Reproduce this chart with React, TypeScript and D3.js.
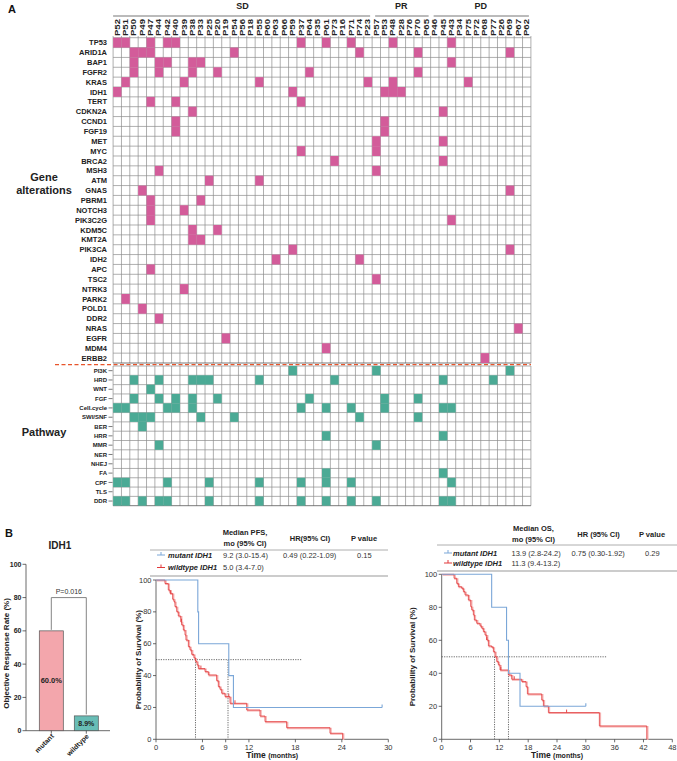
import React from "react";
import * as d3 from "d3";

const FONT = "'Liberation Sans', Arial, Helvetica, sans-serif";
const PINK = "#D35C9A";
const TEAL = "#4BAA95";
const BLUE = "#7BA7D8";
const RED = "#E2393A";
const RED_HALO = "#F6B0B0";
const GRID = "#8C8C8C";

// ---------- Panel A data ----------
const patients = ["P52","P51","P50","P49","P47","P44","P42","P40","P39","P38","P33","P25","P20","P19","P54","P56","P18","P55","P60","P63","P66","P59","P37","P64","P35","P61","P73","P16","P71","P74","P23","P57","P53","P48","P28","P76","P70","P65","P46","P45","P43","P34","P75","P72","P68","P77","P26","P69","P67","P62"];
const responseGroups = ["SD", "PR", "PD"];
const groupSizes = [31, 7, 12];

const genes = ["TP53","ARID1A","BAP1","FGFR2","KRAS","IDH1","TERT","CDKN2A","CCND1","FGF19","MET","MYC","BRCA2","MSH3","ATM","GNAS","PBRM1","NOTCH3","PIK3C2G","KDM5C","KMT2A","PIK3CA","IDH2","APC","TSC2","NTRK3","PARK2","POLD1","DDR2","NRAS","EGFR","MDM4","ERBB2"];
const geneHits: string[][] = [
  ["P52","P51","P47","P42","P40","P37","P61","P71","P48","P43"],
  ["P50","P49","P47","P54","P74","P70","P69"],
  ["P50","P44","P42","P38","P33","P43"],
  ["P50","P44","P38","P20","P64","P70"],
  ["P51","P39","P55","P23","P48","P75"],
  ["P52","P59","P53","P48","P28"],
  ["P47","P40","P37"],
  ["P38","P45"],
  ["P40","P53"],
  ["P40","P53"],
  ["P57","P45"],
  ["P37","P57"],
  ["P73","P45"],
  ["P44","P57"],
  ["P25","P55"],
  ["P49","P69"],
  ["P47","P33"],
  ["P47","P39"],
  ["P47","P43"],
  ["P38","P20"],
  ["P38","P33"],
  ["P59","P69"],
  ["P63","P74"],
  ["P47"],
  ["P57"],
  ["P39"],
  ["P51"],
  ["P49"],
  ["P44"],
  ["P67"],
  ["P19"],
  ["P61"],
  ["P68"],
];

const pathways = ["PI3K","HRD","WNT","FGF","Cell.cycle","SWI/SNF","BER","HRR","MMR","NER","NHEJ","FA","CPF","TLS","DDR"];
const pathwayHits: string[][] = [
  ["P59","P57","P69"],
  ["P50","P44","P38","P33","P25","P55","P73","P45","P77"],
  ["P47"],
  ["P50","P44","P40","P38","P20","P64","P53","P70"],
  ["P52","P51","P42","P40","P38","P37","P61","P71","P53","P45","P43"],
  ["P50","P49","P47","P33","P54","P74","P70"],
  ["P49"],
  ["P61","P45"],
  ["P44","P57"],
  [],
  [],
  ["P61","P45"],
  ["P52","P51","P42","P25","P55","P37","P61","P71","P43"],
  [],
  ["P52","P51","P49","P44","P42","P25","P55","P37","P61","P71","P57","P45","P43"],
];

// ---------- Panel B data ----------
const orrGroups = ["mutant", "wildtype"];
const orrValues = [60.0, 8.9];
const orrLabels = ["60.0%", "8.9%"];
const orrTicks = [0, 20, 40, 60, 80, 100];
const orrP = "P=0.016";

const survTicks = [0, 20, 40, 60, 80, 100];
const pfsTimeTicks = [0, 6, 9, 12, 18, 24, 30];
const osTimeTicks = [0, 6, 12, 18, 24, 30, 36, 42, 48];

const pfsMutTime = [0, 5.4, 5.5, 9.4, 10.0, 29.2];
const pfsMutSurv = [100, 80, 60, 40, 20, 20];
const pfsMutCensor = [29.2];
const pfsWtTime = [0, 1.16, 1.59, 1.81, 2.15, 2.32, 2.45, 2.67, 2.88, 3.19, 3.31, 3.53, 3.75, 3.87, 4.18, 4.39, 4.61, 4.9, 5.1, 5.3, 5.47, 6.33, 6.76, 7.83, 8.05, 8.26, 8.48, 8.91, 9.56, 11.71, 13.43, 14.08, 16.87, 22.47, 24.1];
const pfsWtSurv = [100, 97.8, 93.7, 91.6, 87.9, 86.4, 83.3, 80.1, 77.4, 73.8, 71.8, 68.6, 65.5, 62.3, 58.2, 56.1, 53.3, 51.1, 48.9, 46.7, 44.4, 42.5, 40.4, 36.8, 33.1, 31.4, 28.9, 26.8, 22.6, 18.4, 14.6, 11.1, 7.3, 3.8, 0];
const pfsWtCensor = [1.9, 3.3, 5.8, 9.4, 10.2];
const pfsMedians = [5.1, 9.3];
const pfsRefEnd = 18.8;

const osMutTime = [0, 10.4, 13.5, 13.9, 16.3, 30];
const osMutSurv = [100, 80, 60, 40, 20, 20];
const osMutCensor = [30];
const osWtTime = [0, 2.57, 3.12, 3.47, 4.16, 4.51, 4.86, 5.55, 6.04, 6.25, 6.59, 6.8, 7.29, 7.98, 8.33, 8.67, 9.02, 9.37, 9.72, 10.41, 10.76, 11.1, 11.45, 11.8, 12.14, 13.88, 14.57, 16.66, 17.56, 17.84, 20.82, 21.17, 22.21, 32.82, 42.68];
const osWtSurv = [100, 97.6, 94.5, 92.5, 91.5, 89.5, 87.5, 84.4, 80.4, 78.4, 75.4, 72.3, 70.3, 68.7, 67.3, 65.3, 63.2, 60.2, 56.6, 55.8, 53.1, 50.1, 47.1, 45.1, 42, 39, 36.4, 35, 31.9, 27.5, 23.8, 20.2, 16.2, 8.1, 0];
const osWtCensor = [9.4, 12.3, 15.1, 26.0];
const osMedians = [11.0, 13.9];
const osRefEnd = 34.3;

const pfsTable = {
  head1: "Median PFS,", head2: "mo (95% CI)", hr: "HR(95% CI)", p: "P  value",
  rows: [
    ["mutant IDH1", "9.2 (3.0-15.4)", "0.49 (0.22-1.09)", "0.15"],
    ["wildtype IDH1", "5.0 (3.4-7.0)", "", ""],
  ],
};
const osTable = {
  head1: "Median OS,", head2: "mo (95% CI)", hr: "HR (95% CI)", p: "P  value",
  rows: [
    ["mutant IDH1", "13.9 (2.8-24.2)", "0.75 (0.30-1.92)", "0.29"],
    ["wildtype IDH1", "11.3 (9.4-13.2)", "", ""],
  ],
};

function stepAt(times: number[], surv: number[], t: number) {
  let v = surv[0];
  for (let i = 0; i < times.length; i++) if (times[i] <= t) v = surv[i];
  return v;
}

type KMProps = {
  xs: d3.ScaleLinear<number, number>;
  ys: d3.ScaleLinear<number, number>;
  xTicks: number[];
  mut: [number[], number[], number[]];
  wt: [number[], number[], number[]];
  medians: number[];
  refEnd: number;
  titleX: number;
  table: typeof pfsTable;
  tab: { left: number; right: number; c1: number; c2: number; c3: number; c4: number; h1: number; h2: number; hm: number; line1: number; r1: number; r2: number; sep: number };
};

function KM({ xs, ys, xTicks, mut, wt, medians, refEnd, titleX, table, tab }: KMProps) {
  const line = (times: number[], surv: number[]) =>
    d3.line<number>()
      .x((_, i) => xs(times[i]))
      .y((_, i) => ys(surv[i]))
      .curve(d3.curveStepAfter)(times) || "";
  const [x0, x1] = xs.range();
  const [y0, y1] = ys.range();
  const y50 = ys(50);
  const fs = 7.5;
  return (
    <g fontFamily={FONT}>
      {/* table */}
      <text x={tab.c2 + 22} y={tab.h1} fontSize={fs} fontWeight="bold" textAnchor="middle" fill="#222">{table.head1}</text>
      <text x={tab.c2 + 22} y={tab.h2} fontSize={fs} fontWeight="bold" textAnchor="middle" fill="#222">{table.head2}</text>
      <text x={tab.c3 + 27} y={tab.hm} fontSize={fs} fontWeight="bold" textAnchor="middle" fill="#222">{table.hr}</text>
      <text x={tab.c4 + 7} y={tab.hm} fontSize={fs} fontWeight="bold" textAnchor="middle" fill="#222">{table.p}</text>
      <line x1={tab.left} x2={tab.right} y1={tab.line1} y2={tab.line1} stroke="#999" strokeWidth={0.8} />
      {table.rows.map((r, i) => {
        const y = i === 0 ? tab.r1 : tab.r2;
        const col = i === 0 ? BLUE : RED;
        return (
          <g key={i}>
            <line x1={tab.left + 7} x2={tab.left + 15} y1={y - 2.5} y2={y - 2.5} stroke={col} strokeWidth={1} />
            <line x1={tab.left + 11} x2={tab.left + 11} y1={y - 5.5} y2={y - 2.5} stroke={col} strokeWidth={1} />
            <text x={tab.c1} y={y} fontSize={fs} fontWeight="bold" fontStyle="italic" fill="#222">{r[0]}</text>
            <text x={tab.c2} y={y} fontSize={fs} fill="#333">{r[1]}</text>
            <text x={tab.c3} y={y} fontSize={fs} fill="#333">{r[2]}</text>
            <text x={tab.c4} y={y} fontSize={fs} fill="#333">{r[3]}</text>
          </g>
        );
      })}
      <line x1={tab.left} x2={tab.right} y1={tab.sep} y2={tab.sep} stroke="#BBB" strokeWidth={1.6} />

      {/* axes */}
      <line x1={x0} x2={x0} y1={y0} y2={y1} stroke="#444" strokeWidth={0.8} />
      <line x1={x0} x2={x1} y1={y0} y2={y0} stroke="#444" strokeWidth={0.8} />
      {survTicks.map((t) => (
        <g key={"y" + t}>
          <line x1={x0 - 3} x2={x0} y1={ys(t)} y2={ys(t)} stroke="#444" strokeWidth={0.8} />
          <text x={x0 - 4.5} y={ys(t) + 2.6} fontSize={7.5} textAnchor="end" fill="#333">{t}</text>
        </g>
      ))}
      {xTicks.map((t) => (
        <g key={"x" + t}>
          <line x1={xs(t)} x2={xs(t)} y1={y0} y2={y0 + 3} stroke="#444" strokeWidth={0.8} />
          <text x={xs(t)} y={y0 + 10.5} fontSize={7.5} textAnchor="middle" fill="#333">{t}</text>
        </g>
      ))}
      <text x={(x0 + x1) / 2} y={y0 + 19} textAnchor="middle" fontWeight="bold" fill="#222">
        <tspan fontSize={8.5}>Time </tspan>
        <tspan fontSize={7}>(months)</tspan>
      </text>
      <text transform={`translate(${titleX},${(y0 + y1) / 2}) rotate(-90)`} fontSize={8} fontWeight="bold" textAnchor="middle" fill="#222">Probability of Survival (%)</text>

      {/* reference lines */}
      <line x1={x0} x2={xs(refEnd)} y1={y50} y2={y50} stroke="#444" strokeWidth={0.8} strokeDasharray="1.2 1.2" />
      {medians.map((m, i) => (
        <line key={"m" + i} x1={xs(m)} x2={xs(m)} y1={y50} y2={y0} stroke="#444" strokeWidth={0.8} strokeDasharray="1.2 1.2" />
      ))}

      {/* curves */}
      <path d={line(wt[0], wt[1])} fill="none" stroke={RED_HALO} strokeWidth={1.5} transform="translate(1,0.8)" />
      <path d={line(wt[0], wt[1])} fill="none" stroke={RED} strokeWidth={0.8} />
      {wt[2].map((t, i) => (
        <line key={"wc" + i} x1={xs(t)} x2={xs(t)} y1={ys(stepAt(wt[0], wt[1], t)) - 3} y2={ys(stepAt(wt[0], wt[1], t))} stroke={RED} strokeWidth={0.9} />
      ))}
      <path d={line(mut[0], mut[1])} fill="none" stroke={BLUE} strokeWidth={1.1} />
      {mut[2].map((t, i) => (
        <line key={"mc" + i} x1={xs(t)} x2={xs(t)} y1={ys(stepAt(mut[0], mut[1], t)) - 3} y2={ys(stepAt(mut[0], mut[1], t))} stroke={BLUE} strokeWidth={1.1} />
      ))}
    </g>
  );
}

export default function App() {
  // ----- Panel A scales -----
  const x = d3.scaleBand<string>().domain(patients).range([113.1, 530.9]);
  const yG = d3.scaleBand<string>().domain(genes).range([37.7, 363]);
  const yP = d3.scaleBand<string>().domain(pathways).range([366, 505.7]);
  const bw = x.bandwidth();
  const gx0 = 113.1, gx1 = 530.9;

  const groupStarts: number[] = [];
  groupSizes.reduce((acc, n) => { groupStarts.push(acc); return acc + n; }, 0);

  // ----- Panel B scales -----
  const xb = d3.scaleBand<string>().domain(orrGroups).range([33.8, 103.8]).paddingInner(0.314).paddingOuter(0.157);
  const yb = d3.scaleLinear().domain([0, 100]).range([730.7, 564.3]);

  const xPfs = d3.scaleLinear().domain([0, 30]).range([156, 388.3]);
  const yPfs = d3.scaleLinear().domain([0, 100]).range([739.3, 580]);
  const xOs = d3.scaleLinear().domain([0, 48]).range([441.7, 672.3]);
  const yOs = d3.scaleLinear().domain([0, 100]).range([739.3, 574.3]);

  const mCx = xb("mutant")! + xb.bandwidth() / 2;
  const wCx = xb("wildtype")! + xb.bandwidth() / 2;

  return (
    <svg width={677} height={761} style={{ position: "absolute", left: 0, top: 0, background: "#fff" }} fontFamily={FONT}>
      <rect width={677} height={761} fill="#fff" />
      {/* ===== Panel A ===== */}
      <text x={8} y={13} fontSize={11} fontWeight="bold" fill="#111">A</text>
      {responseGroups.map((g, i) => {
        const s = x(patients[groupStarts[i]])!;
        const e = x(patients[groupStarts[i] + groupSizes[i] - 1])! + bw;
        return (
          <g key={g}>
            <text x={(s + e) / 2} y={9} fontSize={9} fontWeight="bold" textAnchor="middle" fill="#222">{g}</text>
            <line x1={i === 0 ? s : s + 3} x2={e - 2} y1={16} y2={16} stroke="#777" strokeWidth={1} />
          </g>
        );
      })}
      {patients.map((p) => (
        <text key={p} transform={`translate(${x(p)! + bw / 2 + 2.4},36) rotate(-90)`} fontSize={7} fontWeight="bold" fill="#222" textLength={17} lengthAdjust="spacingAndGlyphs">{p}</text>
      ))}

      {/* gene grid */}
      {patients.map((p) => (
        <line key={"vg" + p} x1={x(p)} x2={x(p)} y1={36} y2={363} stroke={GRID} strokeWidth={0.7} />
      ))}
      <line x1={gx1} x2={gx1} y1={36} y2={363} stroke={GRID} strokeWidth={0.7} />
      {genes.map((g) => (
        <line key={"hg" + g} x1={gx0} x2={gx1} y1={yG(g)} y2={yG(g)} stroke={GRID} strokeWidth={0.7} />
      ))}
      <line x1={gx0} x2={gx1} y1={363} y2={363} stroke="#555" strokeWidth={0.8} />
      {genes.map((g, gi) =>
        geneHits[gi].map((p) => (
          <rect key={g + p} x={x(p)} y={yG(g)} width={bw} height={yG.bandwidth()} fill={PINK} />
        ))
      )}
      {genes.map((g) => (
        <text key={"gl" + g} x={107} y={yG(g)! + yG.bandwidth() / 2 + 2.6} fontSize={7.5} fontWeight="bold" textAnchor="end" fill="#222">{g}</text>
      ))}
      <text x={44} y={181} fontSize={11} fontWeight="bold" textAnchor="middle" fill="#222">Gene</text>
      <text x={44} y={194} fontSize={11} fontWeight="bold" textAnchor="middle" fill="#222">alterations</text>

      {/* dashed separator */}
      <line x1={55} x2={531} y1={364.7} y2={364.7} stroke="#E8552B" strokeWidth={1.3} strokeDasharray="4 2.5" />

      {/* pathway grid */}
      {patients.map((p) => (
        <line key={"vp" + p} x1={x(p)} x2={x(p)} y1={366} y2={505.7} stroke={GRID} strokeWidth={0.7} />
      ))}
      <line x1={gx1} x2={gx1} y1={366} y2={505.7} stroke={GRID} strokeWidth={0.7} />
      {pathways.map((g) => (
        <line key={"hp" + g} x1={gx0} x2={gx1} y1={yP(g)} y2={yP(g)} stroke={GRID} strokeWidth={0.7} />
      ))}
      <line x1={gx0} x2={gx1} y1={505.7} y2={505.7} stroke="#555" strokeWidth={0.8} />
      {pathways.map((g, gi) =>
        pathwayHits[gi].map((p) => (
          <rect key={g + p} x={x(p)} y={yP(g)} width={bw} height={yP.bandwidth()} fill={TEAL} />
        ))
      )}
      {pathways.map((g) => {
        const cy = yP(g)! + yP.bandwidth() / 2;
        return (
          <g key={"pl" + g}>
            <text x={107} y={cy + 2.1} fontSize={6} fontWeight="bold" textAnchor="end" fill="#222">{g}</text>
            <line x1={108.5} x2={112.5} y1={cy} y2={cy} stroke="#444" strokeWidth={0.7} />
          </g>
        );
      })}
      <text x={44} y={436} fontSize={11} fontWeight="bold" textAnchor="middle" fill="#222">Pathway</text>

      {/* ===== Panel B ===== */}
      <text x={5} y={537} fontSize={11} fontWeight="bold" fill="#111">B</text>
      <text x={60} y={549} fontSize={10} fontWeight="bold" textAnchor="middle" fill="#222">IDH1</text>

      {/* bar chart axes */}
      <line x1={26} x2={26} y1={yb(100)} y2={yb(0)} stroke="#444" strokeWidth={0.8} />
      <line x1={26} x2={110} y1={yb(0)} y2={yb(0)} stroke="#444" strokeWidth={0.8} />
      {orrTicks.map((t) => (
        <g key={"ob" + t}>
          <line x1={22.5} x2={26} y1={yb(t)} y2={yb(t)} stroke="#444" strokeWidth={0.8} />
          <text x={21.5} y={yb(t) + 2.5} fontSize={7} fontWeight="bold" textAnchor="end" fill="#222">{t}</text>
        </g>
      ))}
      <text transform={`translate(8.5,${(yb(0) + yb(100)) / 2 + 6}) rotate(-90)`} fontSize={8} fontWeight="bold" textAnchor="middle" fill="#222">Objective Response Rate (%)</text>
      {orrGroups.map((g, i) => (
        <g key={g}>
          <rect x={xb(g)} y={yb(orrValues[i])} width={xb.bandwidth()} height={yb(0) - yb(orrValues[i])} fill={i === 0 ? "#F3A6AC" : "#68BDB6"} stroke="#555" strokeWidth={0.7} />
          <text x={xb(g)! + xb.bandwidth() / 2} y={yb(orrValues[i] / 2) + 2.5} fontSize={i === 0 ? 7.5 : 7} fontWeight="bold" textAnchor="middle" fill="#222">{orrLabels[i]}</text>
          <line x1={xb(g)! + xb.bandwidth() / 2} x2={xb(g)! + xb.bandwidth() / 2} y1={yb(0)} y2={yb(0) + 3} stroke="#444" strokeWidth={0.8} />
          <text transform={`translate(${xb(g)! + xb.bandwidth() / 2 + 3},${yb(0) + 6}) rotate(-45)`} fontSize={7} fontWeight="bold" textAnchor="end" fill="#222">{g}</text>
        </g>
      ))}
      <path d={`M${mCx},${yb(orrValues[0]) - 1}V${yb(80)}H${wCx}V${yb(orrValues[1]) - 1.5}`} fill="none" stroke="#777" strokeWidth={0.9} />
      <text x={(mCx + wCx) / 2} y={yb(80) - 4} fontSize={7} textAnchor="middle" fill="#333">{orrP}</text>

      <KM
        xs={xPfs} ys={yPfs} xTicks={pfsTimeTicks}
        mut={[pfsMutTime, pfsMutSurv, pfsMutCensor]}
        wt={[pfsWtTime, pfsWtSurv, pfsWtCensor]}
        medians={pfsMedians} refEnd={pfsRefEnd} titleX={141}
        table={pfsTable}
        tab={{ left: 150, right: 388, c1: 168, c2: 223, c3: 283, c4: 357, h1: 535, h2: 546, hm: 541, line1: 550, r1: 557.5, r2: 570, sep: 576 }}
      />
      <KM
        xs={xOs} ys={yOs} xTicks={osTimeTicks}
        mut={[osMutTime, osMutSurv, osMutCensor]}
        wt={[osWtTime, osWtSurv, osWtCensor]}
        medians={osMedians} refEnd={osRefEnd} titleX={415}
        table={osTable}
        tab={{ left: 437, right: 677, c1: 453, c2: 511.5, c3: 571.5, c4: 645, h1: 531, h2: 542, hm: 537, line1: 545, r1: 555.5, r2: 565.5, sep: 571 }}
      />
    </svg>
  );
}
